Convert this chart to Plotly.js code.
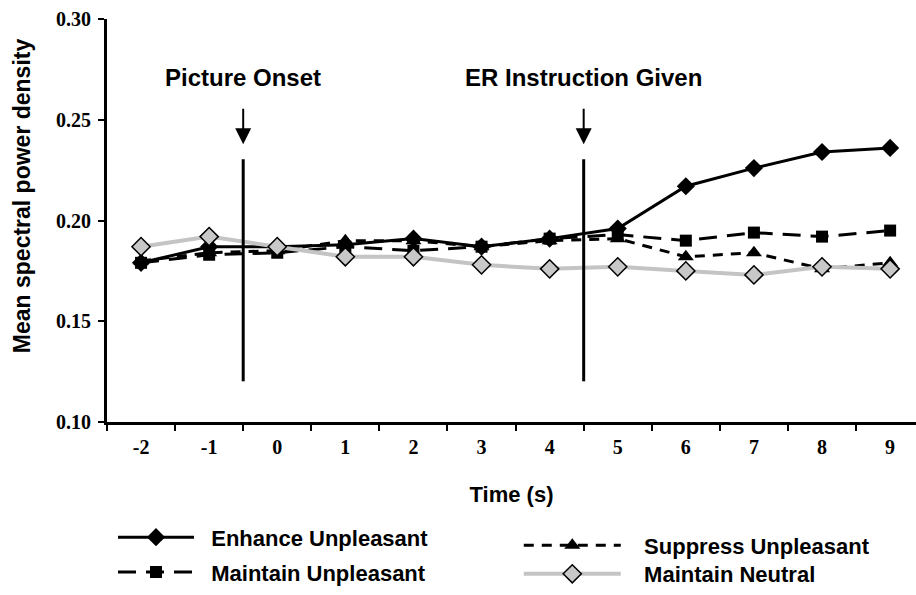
<!DOCTYPE html>
<html>
<head>
<meta charset="utf-8">
<script src="https://cdn.plot.ly/plotly-3.0.1.min.js"></script>
<style>html,body{margin:0;padding:0;background:#fff;}#chart{width:916px;height:595px;}</style>
</head>
<body>
<div id="chart"></div>
<script>
// Data
const times = [-2, -1, 0, 1, 2, 3, 4, 5, 6, 7, 8, 9];
const enhanceUnpleasant  = [0.179, 0.187, 0.187, 0.188, 0.191, 0.187, 0.191, 0.196, 0.217, 0.226, 0.234, 0.236];
const maintainUnpleasant = [0.179, 0.183, 0.184, 0.187, 0.185, 0.187, 0.191, 0.193, 0.190, 0.194, 0.192, 0.195];
const suppressUnpleasant = [0.180, 0.184, 0.185, 0.190, 0.190, 0.187, 0.190, 0.191, 0.182, 0.184, 0.176, 0.179];
const maintainNeutral    = [0.187, 0.192, 0.187, 0.182, 0.182, 0.178, 0.176, 0.177, 0.175, 0.173, 0.177, 0.176];
const seriesNames = ['Enhance Unpleasant', 'Maintain Unpleasant', 'Suppress Unpleasant', 'Maintain Neutral'];
const eventTimes  = [-0.5, 4.5];
const eventLabels = ['Picture Onset', 'ER Instruction Given'];
const yTicks = [0.10, 0.15, 0.20, 0.25, 0.30];
const xTitle = 'Time (s)';
const yTitle = 'Mean spectral power density';

const cats = times.map(String);
const evIdx = eventTimes.map(t => t - times[0]);
const sp = n => '\u00a0'.repeat(n);

const traces = [
  {name: sp(2) + seriesNames[0], x: cats, y: enhanceUnpleasant, type: 'scatter', mode: 'lines+markers',
   line: {color: '#000', width: 3, dash: 'solid'}, marker: {symbol: 'diamond', size: 14, color: '#000'},
   legend: 'legend'},
  {name: sp(2) + seriesNames[1], x: cats, y: maintainUnpleasant, type: 'scatter', mode: 'lines+markers',
   line: {color: '#000', width: 3, dash: '18px,10px'}, marker: {symbol: 'square', size: 12, color: '#000'},
   legend: 'legend2'},
  {name: sp(3) + seriesNames[2], x: cats, y: suppressUnpleasant, type: 'scatter', mode: 'lines+markers',
   line: {color: '#000', width: 3, dash: '10px,8px'}, marker: {symbol: 'triangle-up', size: 14, color: '#000'},
   legend: 'legend3'},
  {name: sp(3) + seriesNames[3], x: cats, y: maintainNeutral, type: 'scatter', mode: 'lines+markers',
   line: {color: '#c4c4c4', width: 4}, marker: {symbol: 'diamond', size: 14, color: '#c8c8c8', line: {color: '#000', width: 1.5}},
   legend: 'legend4'}
];

const shapes = evIdx.map(x => ({type: 'line', xref: 'x', yref: 'y', x0: x, x1: x, y0: 0.1202, y1: 0.2304,
  line: {color: '#000', width: 3}}));

const sans = 'Liberation Sans, Arial, sans-serif';
const serif = 'Liberation Serif, Times New Roman, serif';

const annotations = [];
evIdx.forEach((x, i) => {
  annotations.push({x: x, y: 0.2378, xref: 'x', yref: 'y', text: '', showarrow: true, ax: 0, ay: -37,
    arrowhead: 2, arrowsize: 1.6, arrowwidth: 2, arrowcolor: '#000'});
  annotations.push({x: x, y: 0.854, xref: 'x', yref: 'paper', text: eventLabels[i], showarrow: false,
    xanchor: 'center', yanchor: 'middle',
    font: {family: sans, size: 24, color: '#000', weight: 'bold'}});
});
// y-axis title (placed as rotated text, offset upward like the reference)
annotations.push({x: -0.105, y: 0.5605, xref: 'paper', yref: 'paper', text: yTitle, textangle: -90,
  showarrow: false, xanchor: 'center', yanchor: 'middle',
  font: {family: sans, size: 23, color: '#000', weight: 'bold'}});

const legendFont = {family: sans, size: 22, color: '#000', weight: 'bold'};
const mkLegend = (x, y, w) => ({x: x, y: y, xanchor: 'left', yanchor: 'middle', bgcolor: 'rgba(0,0,0,0)',
  font: legendFont, itemwidth: w});

const layout = {
  width: 916, height: 595,
  margin: {l: 107, r: 0, t: 19, b: 171},
  paper_bgcolor: '#fff', plot_bgcolor: '#fff',
  showlegend: true,
  xaxis: {type: 'category', range: [-0.5, 11.38], tickson: 'boundaries', ticks: 'outside', ticklen: 6, tickwidth: 2,
    tickcolor: '#000', showline: true, linewidth: 3, linecolor: '#000', showgrid: false, zeroline: false,
    ticklabelstandoff: 5,
    tickfont: {family: serif, size: 20, color: '#000', weight: 'bold'},
    title: {text: xTitle, standoff: 30, font: {family: sans, size: 22, color: '#000', weight: 'bold'}}},
  yaxis: {range: [0.10, 0.30], tickvals: yTicks, ticktext: yTicks.map(v => v.toFixed(2)), ticks: 'outside', ticklen: 6, tickwidth: 2,
    tickcolor: '#000', showline: true, linewidth: 3, linecolor: '#000', showgrid: false, zeroline: false,
    ticklabelstandoff: 3,
    tickfont: {family: serif, size: 20, color: '#000', weight: 'bold'}},
  legend:  mkLegend(0.0074, -0.2864, 76),
  legend2: mkLegend(0.0074, -0.3728, 76),
  legend3: mkLegend(0.509, -0.3062, 97),
  legend4: mkLegend(0.509, -0.3778, 97),
  shapes: shapes,
  annotations: annotations
};

Plotly.newPlot('chart', traces, layout, {displayModeBar: false, responsive: false});
</script>
</body>
</html>
